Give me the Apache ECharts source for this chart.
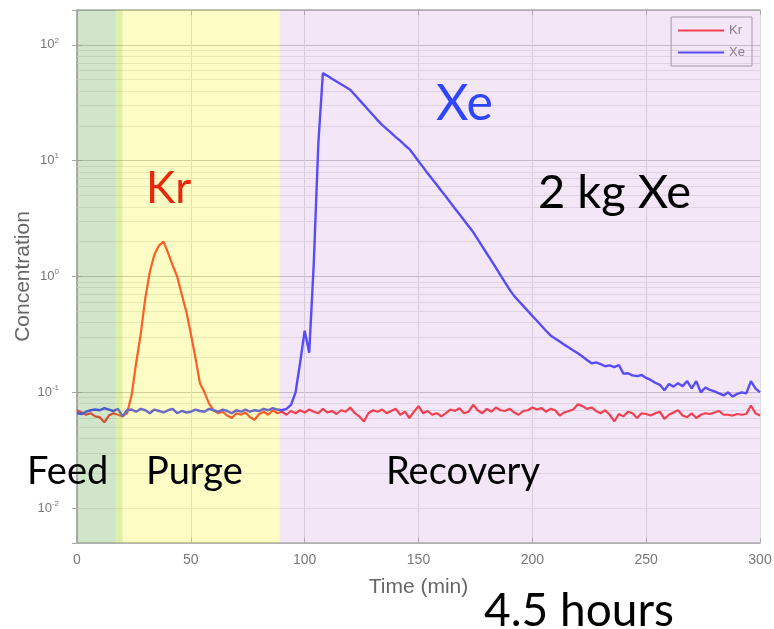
<!DOCTYPE html>
<html>
<head>
<meta charset="utf-8">
<script src="https://cdn.jsdelivr.net/npm/echarts@6.0.0/dist/echarts.min.js"></script>
<style>
html,body{margin:0;padding:0;background:#fff;}
#chart{width:774px;height:629px;}
</style>
</head>
<body>
<div id="chart"></div>
<script>
// ---- data ----
const timeMin = [0,2,4,6,8,10,12,14,16,18,20,22,24,26,28,30,32,34,36,38,40,42,44,46,48,50,52,54,56,58,60,62,64,66,68,70,72,74,76,78,80,82,84,86,88,90,92,94,96,98,100,102,104,106,108,110,112,114,116,118,120,122,124,126,128,130,132,134,136,138,140,142,144,146,148,150,152,154,156,158,160,162,164,166,168,170,172,174,176,178,180,182,184,186,188,190,192,194,196,198,200,202,204,206,208,210,212,214,216,218,220,222,224,226,228,230,232,234,236,238,240,242,244,246,248,250,252,254,256,258,260,262,264,266,268,270,272,274,276,278,280,282,284,286,288,290,292,294,296,298,300];

const krConc = [0.070,0.067,0.064,0.066,0.062,0.061,0.055,0.063,0.066,0.064,0.062,0.066,0.095,0.18,0.32,0.65,1.1,1.55,1.85,2.0,1.6,1.25,1.0,0.7,0.5,0.32,0.2,0.12,0.1,0.08,0.07,0.066,0.068,0.063,0.06,0.066,0.064,0.067,0.061,0.058,0.065,0.068,0.064,0.07,0.066,0.068,0.064,0.069,0.066,0.07,0.067,0.071,0.068,0.066,0.072,0.067,0.069,0.065,0.07,0.068,0.074,0.066,0.062,0.056,0.066,0.07,0.068,0.071,0.066,0.069,0.072,0.064,0.068,0.06,0.068,0.076,0.066,0.069,0.064,0.066,0.062,0.066,0.071,0.069,0.073,0.066,0.068,0.078,0.07,0.066,0.072,0.068,0.074,0.07,0.069,0.072,0.067,0.064,0.069,0.07,0.074,0.071,0.073,0.068,0.072,0.07,0.063,0.067,0.069,0.071,0.079,0.076,0.072,0.074,0.069,0.066,0.07,0.064,0.056,0.065,0.062,0.068,0.066,0.06,0.066,0.065,0.063,0.066,0.068,0.059,0.064,0.067,0.07,0.063,0.061,0.066,0.06,0.064,0.066,0.065,0.067,0.069,0.064,0.064,0.063,0.065,0.064,0.065,0.077,0.066,0.063];

const xeConc = [0.066,0.065,0.068,0.07,0.071,0.07,0.073,0.071,0.069,0.072,0.062,0.07,0.071,0.068,0.072,0.07,0.066,0.071,0.069,0.067,0.07,0.072,0.066,0.069,0.067,0.068,0.071,0.069,0.068,0.072,0.07,0.068,0.071,0.069,0.066,0.07,0.068,0.071,0.068,0.07,0.069,0.072,0.07,0.073,0.071,0.07,0.072,0.078,0.1,0.18,0.34,0.22,1.3,14,57,54,51,48.3,45.7,43.3,41,37.1,33.5,30.3,27.4,24.8,22.4,20.4,18.8,17.4,16.0,14.8,13.6,12.6,11.2,9.9,8.8,7.8,6.95,6.2,5.5,4.9,4.35,3.86,3.44,3.06,2.72,2.42,2.1,1.82,1.58,1.37,1.19,1.03,0.89,0.77,0.68,0.615,0.557,0.505,0.457,0.415,0.376,0.34,0.31,0.292,0.275,0.258,0.244,0.23,0.217,0.204,0.19,0.178,0.181,0.175,0.168,0.171,0.165,0.172,0.145,0.146,0.14,0.138,0.141,0.133,0.128,0.121,0.116,0.104,0.118,0.112,0.12,0.113,0.125,0.108,0.125,0.1,0.11,0.105,0.102,0.098,0.094,0.1,0.092,0.097,0.1,0.098,0.125,0.108,0.1];

const xTicks = [0, 300, 50];           // min, max, interval
const yRange = [0.005, 200];
const minorGrid = [0.006,0.007,0.008,0.009,0.02,0.03,0.04,0.05,0.06,0.07,0.08,0.09,0.2,0.3,0.4,0.5,0.6,0.7,0.8,0.9,2,3,4,5,6,7,8,9,20,30,40,50,60,70,80,90];

// phases (minutes)
const phaseNames = ['Feed', '', 'Purge', 'Recovery'];
const phaseStart = [0, 17, 20, 89];
const phaseEnd   = [17, 20, 89, 300];
const phaseColors = ['rgba(100,170,80,0.30)', 'rgba(175,212,45,0.40)', 'rgba(245,245,30,0.26)', 'rgba(200,140,220,0.22)'];

// ---- chart ----
const chart = echarts.init(document.getElementById('chart'));
const toPairs = (ys) => timeMin.map((t, i) => [t, ys[i]]);
const FONT = 'Lato';
const AX = '"Liberation Sans", Arial, sans-serif';
const FRAME = '#aaaaaa';

const yLabel = (v) => {
  const l = Math.log10(v);
  const e = Math.round(l);
  if (Math.abs(l - e) > 1e-6) return '';
  return '10{sup|' + e + '}';
};

chart.setOption({
  animation: false,
  backgroundColor: '#ffffff',
  grid: { left: 77, right: 14, top: 10, bottom: 86, outerBoundsMode: 'none', containLabel: false },
  legend: {
    data: ['Kr', 'Xe'],
    icon: 'rect',
    orient: 'vertical',
    right: 22, top: 17,
    itemWidth: 46, itemHeight: 2, itemGap: 9,
    padding: [7, 7, 7, 7],
    borderColor: '#999', borderWidth: 1,
    textStyle: { fontSize: 13, color: '#777', fontFamily: AX }
  },
  xAxis: [{
    type: 'value', min: xTicks[0], max: xTicks[1], interval: xTicks[2],
    name: 'Time (min)', nameLocation: 'middle', nameGap: 34, nameMoveOverlap: false,
    nameTextStyle: { fontSize: 21, color: '#666', fontFamily: AX },
    axisLine: { show: true, lineStyle: { color: FRAME, width: 1.5 } },
    axisTick: { inside: true, length: 5, lineStyle: { color: FRAME } },
    axisLabel: { fontSize: 14, color: '#777', margin: 10, fontFamily: AX },
    splitLine: { show: true, lineStyle: { color: '#dcdcdc' } }
  }, {
    type: 'value', position: 'top', min: xTicks[0], max: xTicks[1], interval: xTicks[2],
    axisLine: { show: true, lineStyle: { color: FRAME, width: 1.5 } },
    axisTick: { inside: true, length: 5, lineStyle: { color: FRAME } },
    axisLabel: { show: false }, splitLine: { show: false }
  }],
  yAxis: [{
    type: 'log', logBase: 10, min: yRange[0], max: yRange[1],
    name: 'Concentration', nameLocation: 'middle', nameGap: 43, nameMoveOverlap: false,
    nameTextStyle: { fontSize: 21, color: '#666', fontFamily: AX },
    axisLine: { show: true, lineStyle: { color: FRAME, width: 1.5 } },
    axisTick: { inside: true, length: 5, lineStyle: { color: FRAME } },
    axisLabel: {
      showMinLabel: false, showMaxLabel: false, margin: 18,
      formatter: yLabel, color: '#777', fontFamily: AX, fontSize: 13,
      rich: { sup: { fontSize: 8, color: '#777', fontFamily: AX, padding: [0, 0, 9, 0] } }
    },
    splitLine: { show: true, lineStyle: { color: '#c4c4c4' } }
  }, {
    type: 'log', logBase: 10, min: yRange[0], max: yRange[1], position: 'right',
    axisLine: { show: true, lineStyle: { color: FRAME, width: 1.5 } },
    axisTick: { inside: true, length: 5, lineStyle: { color: FRAME } },
    axisLabel: { show: false }, splitLine: { show: false }
  }],
  series: [
    {
      name: 'minor', type: 'line', data: [], z: 1, silent: true,
      markLine: {
        z: 1, silent: true, symbol: 'none', label: { show: false },
        lineStyle: { color: '#e6e6e6', type: 'solid', width: 1 },
        data: minorGrid.map(v => ({ yAxis: v }))
      }
    },
    {
      name: 'Kr', type: 'line', data: toPairs(krConc), symbol: 'none', z: 3,
      lineStyle: { color: '#ff2a2a', width: 2.2 }, itemStyle: { color: '#ff2a2a' }
    },
    {
      name: 'Xe', type: 'line', data: toPairs(xeConc), symbol: 'none', z: 4,
      lineStyle: { color: '#3a3aff', width: 2.4 }, itemStyle: { color: '#3a3aff' }
    },
    {
      name: 'phases', type: 'line', data: [], z: 6, silent: true,
      markArea: {
        z: 10, silent: true,
        data: phaseStart.map((s, i) => [
          { xAxis: s, itemStyle: { color: phaseColors[i] } },
          { xAxis: phaseEnd[i] }
        ])
      }
    }
  ],
  graphic: [
    { type: 'text', z: 100, left: 146, top: 167, style: { text: 'Kr', font: '44px ' + FONT, fill: '#e8280c' } },
    { type: 'text', z: 100, left: 436, top: 79, style: { text: 'Xe', font: '50px ' + FONT, fill: '#2f45ff' } },
    { type: 'text', z: 100, left: 538, top: 169, style: { text: '2 kg Xe', font: '47px ' + FONT, fill: '#000' } },
    { type: 'text', z: 100, left: 27, top: 453, style: { text: phaseNames[0], font: '38px ' + FONT, fill: '#000' } },
    { type: 'text', z: 100, left: 146, top: 453, style: { text: phaseNames[2], font: '38px ' + FONT, fill: '#000' } },
    { type: 'text', z: 100, left: 386, top: 453, style: { text: phaseNames[3], font: '38px ' + FONT, fill: '#000' } },
    { type: 'text', z: 100, left: 484, top: 588, style: { text: '4.5 hours', font: '46px ' + FONT, fill: '#000' } }
  ]
});
</script>
</body>
</html>
